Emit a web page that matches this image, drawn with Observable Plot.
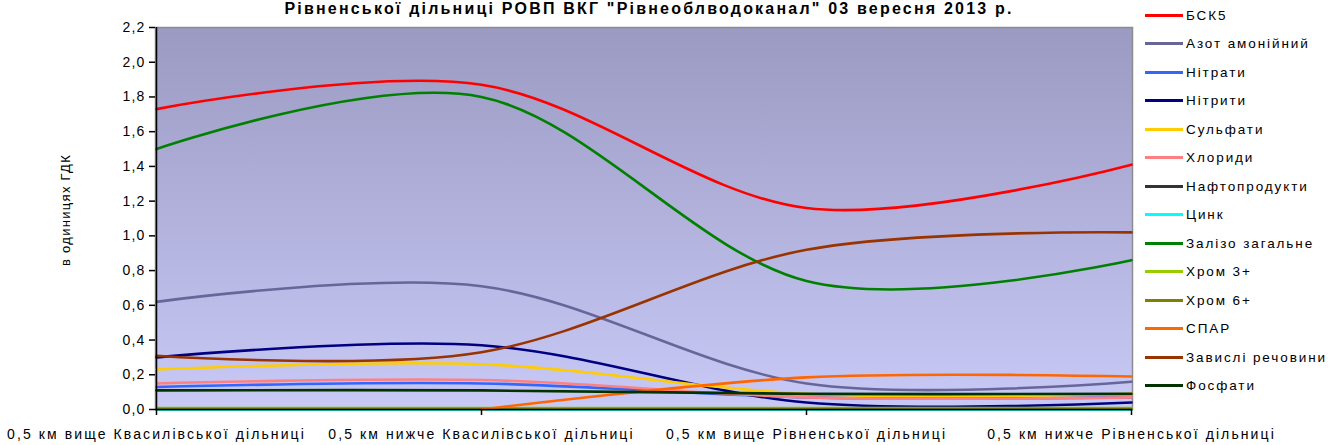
<!DOCTYPE html>
<html><head><meta charset="utf-8">
<script src="https://cdn.jsdelivr.net/npm/d3@7"></script>
<script src="https://cdn.jsdelivr.net/npm/@observablehq/plot@0.6"></script>
<style>
body{margin:0;background:#fff;font-family:"Liberation Sans",Arial,sans-serif;}
#wrap{position:relative;width:1331px;height:445px;overflow:hidden;}
#title{position:absolute;top:1px;left:0;width:1298px;text-align:center;font-weight:bold;font-size:16px;line-height:16px;letter-spacing:2.2px;white-space:nowrap;color:#000;}
#ylab{position:absolute;left:65px;top:210px;transform:translate(-50%,-50%) rotate(-90deg);font-size:13px;letter-spacing:1.3px;white-space:nowrap;color:#000;}
#legend{position:absolute;left:1145px;top:0;}
.item{position:absolute;left:0;height:20px;display:flex;align-items:center;white-space:nowrap;font-size:13.5px;letter-spacing:1.9px;color:#000;}
.sw{width:38px;height:3px;margin-right:3px;}
</style></head><body>
<div id="wrap"><div id="chart"></div><div id="title"></div><div id="ylab"></div><div id="legend"></div></div>
<script>
const titleText = 'Рівненської дільниці РОВП ВКГ "Рівнеоблводоканал" 03 вересня 2013 р.';
const yLabel = "в одиницях ГДК";
const categories = [
  "0,5 км вище Квасилівської дільниці",
  "0,5 км нижче Квасилівської дільниці",
  "0,5 км вище Рівненської дільниці",
  "0,5 км нижче Рівненської дільниці"
];
const yTicks = [0, 0.2, 0.4, 0.6, 0.8, 1.0, 1.2, 1.4, 1.6, 1.8, 2.0, 2.2];
const seriesNames = ["БСК5","Азот амонійний","Нітрати","Нітрити","Сульфати","Хлориди","Нафтопродукти","Цинк","Залізо загальне","Хром 3+","Хром 6+","СПАР","Завислі речовини","Фосфати"];
const seriesColors = ["#FF0000","#666699","#3366FF","#000080","#FFCC00","#FF8080","#333333","#00FFFF","#008000","#99CC00","#808000","#FF6600","#993300","#003300"];

const bsk5     = [1.73, 1.87, 1.16, 1.41];
const azot     = [0.62, 0.71, 0.15, 0.16];
const nitraty  = [0.13, 0.15, 0.07, 0.07];
const nitryty  = [0.30, 0.37, 0.04, 0.04];
const sulfaty  = [0.23, 0.26, 0.09, 0.09];
const khlorydy = [0.15, 0.17, 0.07, 0.07];
const nafto    = [0.0, 0.0, 0.0, 0.0];
const tsynk    = [0.0, 0.0, 0.0, 0.0];
const zalizo   = [1.50, 1.80, 0.74, 0.86];
const khrom3   = [0.008, 0.008, 0.008, 0.008];
const khrom6   = [0.004, 0.004, 0.004, 0.004];
const spar     = [null, 0.0, 0.185, 0.19];
const zavysli  = [0.31, 0.33, 0.92, 1.02];
const fosfaty  = [0.11, 0.11, 0.09, 0.09];

const seriesValues = [bsk5, azot, nitraty, nitryty, sulfaty, khlorydy, nafto, tsynk, zalizo, khrom3, khrom6, spar, zavysli, fosfaty];

const fmt = v => d3.format(".1f")(v).replace(".", ",");

const lineMarks = seriesNames.map((name, i) => {
  const rows = categories.map((c, j) => ({cat: c, v: seriesValues[i][j]}));
  return Plot.line(rows, {x: "cat", y: "v", stroke: seriesColors[i], strokeWidth: 2.6, curve: "cardinal"});
});

const chart = Plot.plot({
  width: 1331, height: 445,
  marginLeft: 155, marginRight: 199, marginTop: 27, marginBottom: 36,
  style: {fontFamily: '"Liberation Sans", Arial, sans-serif', color: "#000", background: "transparent"},
  x: {type: "point", domain: categories, padding: 0},
  y: {domain: [0, 2.2]},
  marks: [
    Plot.frame({fill: "url(#plotbg)", stroke: "#8c8c8c", strokeWidth: 1.5}),
    ...lineMarks,
    Plot.ruleY([0], {stroke: "#000", strokeWidth: 1.5}),
    Plot.ruleX([categories[0]], {stroke: "#000", strokeWidth: 1.5}),
    Plot.axisY({ticks: yTicks, tickFormat: fmt, tickSize: 6, tickPadding: 4, fontSize: 14, stroke: "#000", strokeWidth: 1.5, label: null}),
    Plot.axisX({tickSize: 6, tickPadding: 14, fontSize: 14, stroke: "#000", strokeWidth: 1.5, label: null})
  ]
});

const svg = d3.select(chart);
const defs = svg.insert("defs", ":first-child");
const g = defs.append("linearGradient").attr("id", "plotbg").attr("x1", 0).attr("y1", 0).attr("x2", 0).attr("y2", 1);
g.append("stop").attr("offset", "0%").attr("stop-color", "#9A9AC2");
g.append("stop").attr("offset", "100%").attr("stop-color", "#C9C9F7");
svg.selectAll("[aria-label='y-axis tick label'] text").style("letter-spacing", "1.2px");
svg.selectAll("[aria-label='x-axis tick label'] text").style("letter-spacing", "2.1px");

document.getElementById("chart").appendChild(chart);
document.getElementById("title").textContent = titleText;
document.getElementById("ylab").textContent = yLabel;

const legend = document.getElementById("legend");
seriesNames.forEach((name, i) => {
  const it = document.createElement("div");
  it.className = "item";
  it.style.top = (15 + 28.5 * i - 10) + "px";
  const sw = document.createElement("span");
  sw.className = "sw";
  sw.style.background = seriesColors[i];
  const tx = document.createElement("span");
  tx.textContent = name;
  it.appendChild(sw); it.appendChild(tx);
  legend.appendChild(it);
});
</script></body></html>
